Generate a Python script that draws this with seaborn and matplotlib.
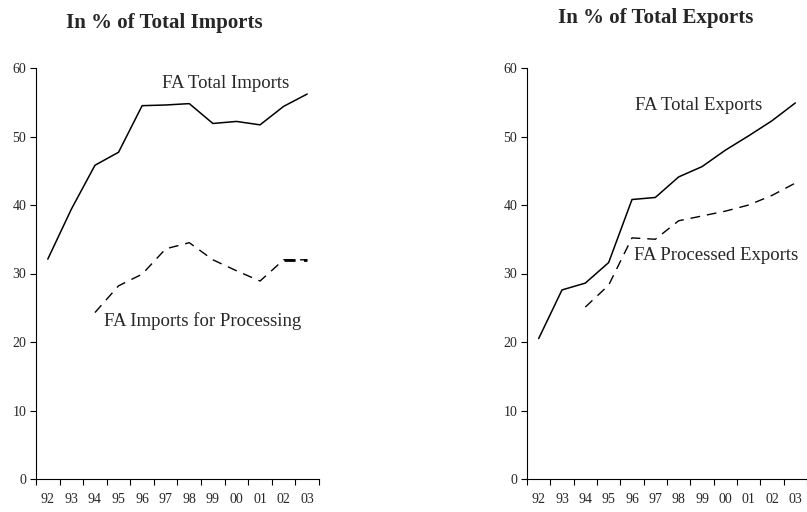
import matplotlib
matplotlib.use("Agg")
import matplotlib.pyplot as plt
import seaborn as sns
import pandas as pd
import numpy as np

years = ["92", "93", "94", "95", "96", "97", "98", "99", "00", "01", "02", "03"]
fa_total_imports = [32.1, 39.4, 45.8, 47.7, 54.5, 54.6, 54.8, 51.9, 52.2, 51.7, 54.4, 56.2]
fa_imports_processing = [None, None, 24.3, 28.2, 29.9, 33.6, 34.5, 32.0, 30.4, 28.9, 32.0, 32.0]
fa_total_exports = [20.5, 27.6, 28.6, 31.6, 40.8, 41.1, 44.1, 45.6, 48.0, 50.1, 52.3, 54.9]
fa_processed_exports = [None, None, 25.1, 28.3, 35.2, 35.0, 37.7, 38.4, 39.1, 40.0, 41.4, 43.2]

sns.set_theme(style="white")
plt.rcParams["font.family"] = ["Liberation Serif", "DejaVu Serif"]

def frame(vals):
    return pd.DataFrame({"x": np.arange(len(years)), "y": pd.array(vals, dtype="Float64").astype(float)}).dropna()

fig = plt.figure(figsize=(8.07, 5.12), dpi=100)
W, H = 807, 512
axL = fig.add_axes([36 / W, 33 / H, 283 / W, 411 / H])
axR = fig.add_axes([527 / W, 33 / H, 280 / W, 411 / H])

def style(ax):
    ax.set_xlim(-0.5, len(years) - 0.5)
    ax.set_ylim(0, 60)
    ax.set_yticks([0, 10, 20, 30, 40, 50, 60])
    ax.set_xticks(np.arange(-0.5, len(years), 1.0))
    ax.set_xticklabels([])
    ax.set_xticks(np.arange(len(years)), minor=True)
    ax.set_xticklabels(years, minor=True)
    ax.tick_params(axis="x", which="major", direction="out", length=4, width=0.8, color="black", bottom=True)
    ax.tick_params(axis="x", which="minor", length=0, pad=10, labelsize=10, bottom=True)
    ax.tick_params(axis="y", direction="out", length=4, width=0.8, color="black", labelsize=10, left=True, pad=3)
    for s in ["top", "right"]:
        ax.spines[s].set_visible(False)
    for s in ["left", "bottom"]:
        ax.spines[s].set_color("black")
        ax.spines[s].set_linewidth(0.8)
    ax.set_xlabel("")
    ax.set_ylabel("")

# Left panel
sns.lineplot(data=frame(fa_total_imports), x="x", y="y", ax=axL, color="black", lw=1.1, clip_on=False)
sns.lineplot(data=frame(fa_imports_processing), x="x", y="y", ax=axL, color="black", lw=1.0, clip_on=False)
axL.lines[-1].set_dashes((7, 5))
thick = frame(fa_imports_processing).iloc[-2:]
sns.lineplot(data=thick, x="x", y="y", ax=axL, color="black", lw=2.0, clip_on=False)
axL.lines[-1].set_dashes((4, 3))
style(axL)

# Right panel
sns.lineplot(data=frame(fa_total_exports), x="x", y="y", ax=axR, color="black", lw=1.1, clip_on=False)
sns.lineplot(data=frame(fa_processed_exports), x="x", y="y", ax=axR, color="black", lw=1.0, clip_on=False)
axR.lines[-1].set_dashes((7, 5))
style(axR)

fig.text(164 / W, 1 - 23 / H, "In % of Total Imports", ha="center", va="center", fontsize=15, fontweight="bold")
fig.text(656 / W, 1 - 18 / H, "In % of Total Exports", ha="center", va="center", fontsize=15, fontweight="bold")

fig.text(226 / W, 1 - 84 / H, "FA Total Imports", ha="center", va="center", fontsize=13.5)
fig.text(203 / W, 1 - 321 / H, "FA Imports for Processing", ha="center", va="center", fontsize=13.5)
fig.text(699 / W, 1 - 105 / H, "FA Total Exports", ha="center", va="center", fontsize=13.5)
fig.text(716 / W, 1 - 255 / H, "FA Processed Exports", ha="center", va="center", fontsize=13.5)

fig.savefig("out.png", dpi=100, facecolor="white")
